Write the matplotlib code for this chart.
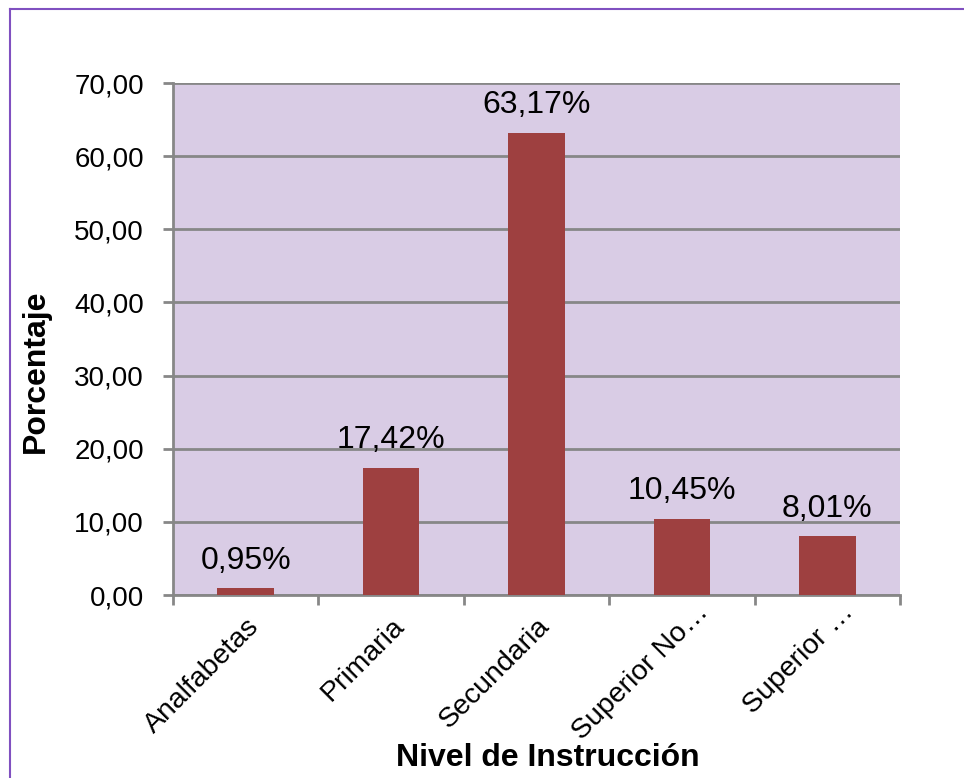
import matplotlib.pyplot as plt
import matplotlib.transforms as mtransforms
from matplotlib.lines import Line2D
import numpy as np

# data
categories = ["Analfabetas", "Primaria", "Secundaria", "Superior No…", "Superior …"]
values = [0.95, 17.42, 63.17, 10.45, 8.01]
value_labels = ["0,95%", "17,42%", "63,17%", "10,45%", "8,01%"]
yticks = [0, 10, 20, 30, 40, 50, 60, 70]
ytick_labels = ["0,00", "10,00", "20,00", "30,00", "40,00", "50,00", "60,00", "70,00"]

plt.rcParams['font.family'] = ['Liberation Sans', 'DejaVu Sans']

fig = plt.figure(figsize=(9.64, 7.78), dpi=100)
ax = fig.add_axes([0.1795, 0.2352, 0.7541, 0.6581])

x = np.arange(len(categories))
ax.set_facecolor('#D9CCE5')
ax.bar(x, values, width=0.39, color='#9E4040', zorder=3)

for xi, v, lab in zip(x, values, value_labels):
    ax.annotate(lab, (xi, v), xytext=(0, 9), textcoords='offset points',
                ha='center', va='bottom', fontsize=23, color='black')

ax.set_xlim(-0.5, len(categories) - 0.5)
ax.set_ylim(0, 70)
ax.set_yticks(yticks)
ax.set_yticklabels(ytick_labels, fontsize=20)
ax.yaxis.grid(True, color='#878787', linewidth=2, zorder=1)
ax.set_axisbelow(True)

ax.set_xticks(x)
ax.set_xticklabels(categories, fontsize=20.5, rotation=45, ha='right',
                   rotation_mode='anchor')
ax.set_xticks(np.arange(-0.5, len(categories)), minor=True)
ax.tick_params(axis='x', which='major', length=0, pad=13)
ax.tick_params(axis='x', which='minor', length=7, width=2, color='#878787')
ax.tick_params(axis='y', length=7, width=2, color='#878787', pad=14)

# the truncated labels sit a bit higher and further right in the original
for lab in ax.get_xticklabels()[3:]:
    shift = mtransforms.ScaledTranslation(13 / 100, 14 / 100, fig.dpi_scale_trans)
    lab.set_transform(lab.get_transform() + shift)

for s in ['top', 'right']:
    ax.spines[s].set_visible(False)
for s in ['left', 'bottom']:
    ax.spines[s].set_color('#878787')
    ax.spines[s].set_linewidth(2)

fig.text(0.037, 0.523, "Porcentaje", rotation=90, ha='center', va='center',
         fontsize=23, fontweight='bold')
fig.text(0.568, 0.026, "Nivel de Instrucción", ha='center', va='center',
         fontsize=23, fontweight='bold')

# purple chart frame (left and top edges)
fig.add_artist(Line2D([0.0104, 0.0104], [0, 0.988], color='#8050C0', linewidth=1.5))
fig.add_artist(Line2D([0.0104, 1.0], [0.988, 0.988], color='#8050C0', linewidth=1.5))

fig.savefig("out.png", dpi=100)
